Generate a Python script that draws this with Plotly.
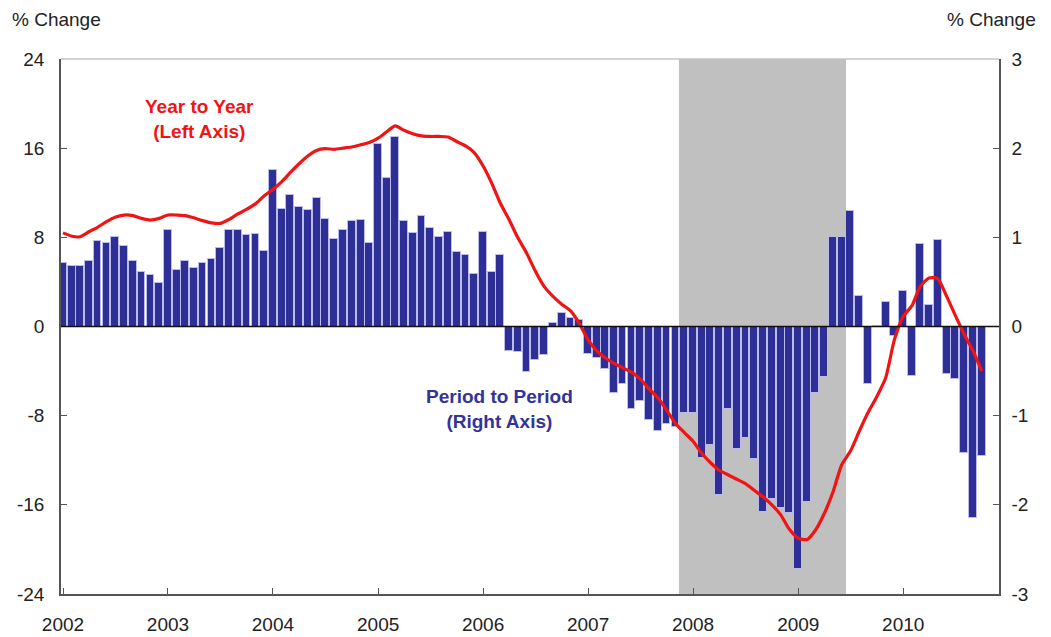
import pandas as pd
import plotly.graph_objects as go

# ---- data ----
months = pd.date_range("2002-01-01", periods=106, freq="MS")

period_to_period = [  # % change, right axis
    0.71, 0.68, 0.68, 0.74, 0.96, 0.94, 1.00, 0.90, 0.73, 0.61, 0.58, 0.49,
    1.08, 0.63, 0.73, 0.66, 0.71, 0.76, 0.88, 1.08, 1.08, 1.03, 1.04, 0.85,
    1.75, 1.32, 1.48, 1.34, 1.31, 1.44, 1.21, 0.98, 1.08, 1.18, 1.20, 0.94,
    2.05, 1.67, 2.13, 1.18, 1.05, 1.24, 1.11, 1.00, 1.06, 0.83, 0.80, 0.59,
    1.06, 0.61, 0.80, -0.27, -0.29, -0.51, -0.38, -0.32, 0.04, 0.15, 0.09, 0.07,
    -0.31, -0.35, -0.48, -0.75, -0.64, -0.92, -0.84, -1.05, -1.17, -1.09, -1.13, -0.97,
    -0.97, -1.47, -1.33, -1.89, -0.93, -1.37, -1.25, -1.49, -2.08, -1.94, -2.03, -2.09,
    -2.72, -1.97, -0.75, -0.57, 1.00, 1.00, 1.29, 0.34, -0.64, 0.01, 0.27, -0.11,
    0.40, -0.56, 0.92, 0.24, 0.97, -0.53, -0.59, -1.42, -2.15, -1.45,
]

year_to_year = [  # % change, left axis
    8.4, 8.1, 8.05, 8.5, 8.9, 9.4, 9.8, 10.0, 9.95, 9.7, 9.55, 9.7,
    10.0, 10.0, 9.95, 9.75, 9.5, 9.3, 9.25, 9.6, 10.1, 10.5, 11.0, 11.7,
    12.3, 13.0, 13.8, 14.6, 15.3, 15.8, 15.95, 15.9, 16.0, 16.1, 16.3, 16.5,
    16.9, 17.5, 18.0, 17.6, 17.3, 17.1, 17.05, 17.05, 17.0, 16.6, 16.2, 15.6,
    14.4, 12.8, 11.1, 9.6, 8.0, 6.6, 5.0, 3.6, 2.7, 2.0, 1.4, 0.3,
    -1.2, -2.2, -2.8, -3.3, -3.7, -4.1, -4.7, -5.6, -6.4, -7.5, -8.7, -9.5,
    -10.3, -11.4, -12.2, -12.9, -13.3, -13.7, -14.1, -14.7, -15.3, -16.0, -16.9, -18.2,
    -19.0, -19.1, -18.3, -16.8, -14.9, -12.4, -11.2, -9.4, -7.7, -6.3, -4.6, -1.2,
    0.9, 1.9, 3.6, 4.35, 4.3, 2.7, 1.0, -0.7, -2.2, -4.0,
]

year_ticks = [f"{y}-01-01" for y in range(2002, 2011)]
year_labels = [str(y) for y in range(2002, 2011)]
left_ticks = [-24, -16, -8, 0, 8, 16, 24]
left_labels = ["-24", "-16", "-8", "0", "8", "16", "24"]
right_ticks = [-3, -2, -1, 0, 1, 2, 3]
right_labels = ["-3", "-2", "-1", "0", "1", "2", "3"]
recession = ("2007-11-13", "2009-06-16")

FONT = "Liberation Sans, Arial, sans-serif"
BAR = "#2d2f96"
RED = "#f01414"
AXC = "#555555"

fig = go.Figure()

# bars on the right-hand scale (drawn first, underneath)
fig.add_trace(go.Bar(
    x=months, y=period_to_period, yaxis="y",
    width=[27 * 24 * 3600 * 1000] * len(months),
    marker=dict(color=BAR, line=dict(color="#bcbcec", width=1)),
    name="Period to Period", hoverinfo="x+y",
))

# year-to-year line on left-hand scale (overlaid, drawn on top)
fig.add_trace(go.Scatter(
    x=months, y=year_to_year, yaxis="y2", mode="lines",
    line=dict(color=RED, width=3.2, shape="spline", smoothing=0.6),
    name="Year to Year",
))

fig.update_layout(
    width=1043, height=629,
    template="none",
    paper_bgcolor="white", plot_bgcolor="white",
    margin=dict(l=53, r=52, t=51, b=43),
    showlegend=False,
    font=dict(family=FONT, size=19, color="#222222"),
    xaxis=dict(
        type="date", range=["2001-12-25", "2010-11-30"],
        tickvals=year_ticks, ticktext=year_labels,
        ticks="inside", ticklen=6, tickcolor=AXC, tickwidth=1,
        showline=True, linecolor=AXC, linewidth=1.5,
        showgrid=False, zeroline=False, automargin=False,
        ticklabelstandoff=12,
    ),
    yaxis=dict(
        side="right", range=[-3, 3], tickvals=right_ticks, ticktext=right_labels,
        ticks="inside", ticklen=6, tickcolor=AXC,
        showline=True, linecolor=AXC, linewidth=1.5,
        showgrid=False, zeroline=False, automargin=False,
        ticklabelstandoff=7,
    ),
    yaxis2=dict(
        side="left", overlaying="y", range=[-24, 24], tickvals=left_ticks,
        ticktext=left_labels,
        ticks="inside", ticklen=6, tickcolor=AXC,
        showline=True, linecolor=AXC, linewidth=1.5,
        showgrid=False, zeroline=False, automargin=False,
        ticklabelstandoff=11,
    ),
    bargap=0.0,
)

# recession shading
fig.add_shape(type="rect", xref="x", yref="paper",
              x0=recession[0], x1=recession[1], y0=0, y1=1,
              fillcolor="#c0c0c0", line=dict(width=0), layer="below")
# top frame line
fig.add_shape(type="line", xref="paper", yref="paper", x0=0, x1=1, y0=1, y1=1,
              line=dict(color="#c4c4c4", width=1.5))
# zero line
fig.add_shape(type="line", xref="paper", yref="y", x0=0, x1=1, y0=0, y1=0,
              line=dict(color="#111111", width=1.5), layer="above")

fig.add_annotation(xref="paper", yref="paper", x=0.148, y=0.888,
                   xanchor="center", yanchor="middle",
                   text="<b>Year to Year<br>(Left Axis)</b>", showarrow=False,
                   font=dict(family=FONT, size=19, color=RED), align="center")
fig.add_annotation(xref="paper", yref="paper", x=0.468, y=0.345,
                   xanchor="center", yanchor="middle",
                   text="<b>Period to Period<br>(Right Axis)</b>", showarrow=False,
                   font=dict(family=FONT, size=19, color="#333399"), align="center")
fig.add_annotation(xref="paper", yref="paper", x=-0.0544, y=1.0, yshift=40,
                   xanchor="left", yanchor="middle", text="% Change",
                   showarrow=False, font=dict(family=FONT, size=19, color="#222222"))
fig.add_annotation(xref="paper", yref="paper", x=1.0416, y=1.0, yshift=40,
                   xanchor="right", yanchor="middle", text="% Change",
                   showarrow=False, font=dict(family=FONT, size=19, color="#222222"))

fig.write_html("out.html")
